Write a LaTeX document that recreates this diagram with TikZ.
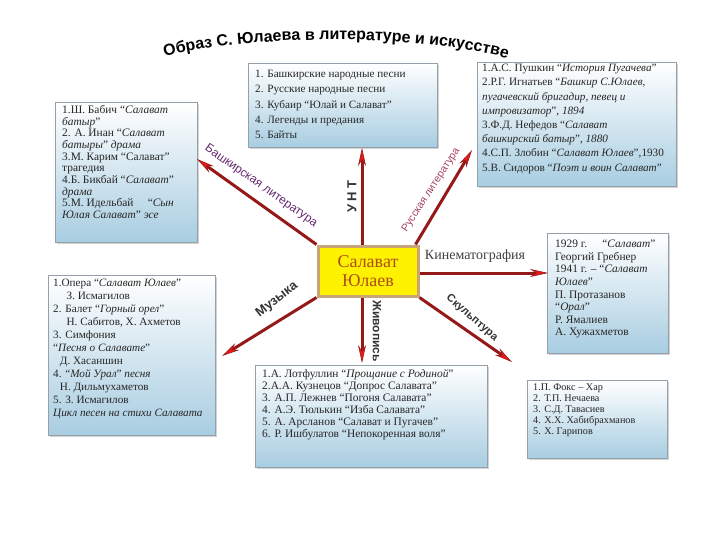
\documentclass[tikz,border=0pt]{standalone}
\usepackage{fontspec}
\setmainfont{Liberation Serif}
\setsansfont{Liberation Sans}
\newfontfamily\spacedsans[LetterSpace=25]{Liberation Sans}
\usetikzlibrary{arrows.meta,shadows,decorations.text}

\definecolor{linkred}{RGB}{150,25,25}
\definecolor{tipred}{RGB}{235,25,25}
\definecolor{boxblue}{RGB}{168,205,225}
\definecolor{boxedge}{RGB}{150,160,170}
\definecolor{ctrtext}{RGB}{172,78,22}
\definecolor{ctredge}{RGB}{200,165,120}
\definecolor{bashviolet}{RGB}{100,40,110}
\definecolor{ruspink}{RGB}{165,65,95}

\newcommand{\boxfont}[2]{\fontsize{#1}{#2}\selectfont}

\tikzset{
  infobox/.style={draw=boxedge, top color=white, bottom color=boxblue, anchor=north west,
    drop shadow={shadow xshift=2pt, shadow yshift=-2pt, opacity=0.35}},
  boxtext/.style={anchor=north west, align=left, inner sep=0pt, text=black!85},
  link/.style={draw=linkred, line width=3pt,
    -{Stealth[length=18pt, width=8pt, fill=tipred, color=linkred, line width=0.6pt]}},
  artname/.style={text=black!80, font=\sffamily\bfseries\boxfont{#1}{#1}},
}

\begin{document}
\begin{tikzpicture}[x=1pt, y=-1pt]
    \useasboundingbox (0,0) rectangle (720,540);

    % Title along an arc
    \path[decorate, decoration={text along path, text align=center,
        text={|\sffamily\bfseries\boxfont{16}{16}|Образ С. Юлаева в литературе и искусстве}}]
        (166,56) .. controls (255,34) and (420,34) .. (506,58);

    % Boxes
    \node[infobox, minimum width=142pt, minimum height=140pt] (bashbox) at (55,102) {};
    \node[infobox, minimum width=189pt, minimum height=84pt] (untbox) at (248,63) {};
    \node[infobox, minimum width=199pt, minimum height=124pt] (rusbox) at (477,62) {};
    \node[infobox, minimum width=121pt, minimum height=120pt] (kinobox) at (547,233) {};
    \node[infobox, minimum width=167pt, minimum height=160pt] (muzbox) at (48,275) {};
    \node[infobox, minimum width=232pt, minimum height=102pt] (zhivbox) at (255,365) {};
    \node[infobox, minimum width=140pt, minimum height=78pt] (skulbox) at (527,380) {};

    % Texts in the boxes
    \node[boxtext, font=\boxfont{11.4}{11.7}] (bashtext) at (62,105) {%
        1.Ш. Бабич “\textit{Салават}\\
        \textit{батыр}”\\
        2. А. Инан “\textit{Салават}\\
        \textit{батыры}” \textit{драма}\\
        3.М. Карим “Салават”\\
        трагедия\\
        4.Б. Бикбай “\textit{Салават}”\\
        \textit{драма}\\
        5.М. Идельбай \quad “\textit{Сын}\\
        \textit{Юлая Салават}” \textit{эсе}};

    \node[boxtext, font=\boxfont{11.2}{15.3}] (unttext) at (255,70) {%
        1. Башкирские народные песни\\
        2. Русские народные песни\\
        3. Кубаир “Юлай и Салават”\\
        4. Легенды и предания\\
        5. Байты};

    \node[boxtext, font=\boxfont{11.2}{14.2}] (rustext) at (482,64) {%
        1.А.С. Пушкин “\textit{История Пугачева}”\\
        2.Р.Г. Игнатьев “\textit{Башкир С.Юлаев,}\\
        \textit{пугачевский бригадир, певец и}\\
        \textit{импровизатор}”, \textit{1894}\\
        3.Ф.Д. Нефедов “\textit{Салават}\\
        \textit{башкирский батыр}”, \textit{1880}\\
        4.С.П. Злобин “\textit{Салават Юлаев}”,1930\\
        5.В. Сидоров “\textit{Поэт и воин Салават}”};

    \node[boxtext, font=\boxfont{11.4}{12.6}] (kinotext) at (555,240) {%
        1929 г. \quad “\textit{Салават}”\\
        Георгий Гребнер\\
        1941 г. – “\textit{Салават}\\
        \textit{Юлаев}”\\
        П. Протазанов\\
        “\textit{Орал}”\\
        Р. Ямалиев\\
        А. Хужахметов};

    \node[boxtext, font=\boxfont{11.2}{13}] (muztext) at (53,279) {%
        1.Опера “\textit{Салават Юлаев}”\\
        \hspace*{1.2em}З. Исмагилов\\
        2. Балет “\textit{Горный орел}”\\
        \hspace*{1.2em}Н. Сабитов, Х. Ахметов\\
        3. Симфония\\
        “\textit{Песня о Салавате}”\\
        \hspace*{0.6em}Д. Хасаншин\\
        4. “\textit{Мой Урал}” \textit{песня}\\
        \hspace*{0.6em}Н. Дильмухаметов\\
        5. З. Исмагилов\\
        \textit{Цикл песен на стихи Салавата}};

    \node[boxtext, font=\boxfont{11.4}{12}] (zhivtext) at (262,369) {%
        1.А. Лотфуллин “\textit{Прощание с Родиной}”\\
        2.А.А. Кузнецов “Допрос Салавата”\\
        3. А.П. Лежнев “Погоня Салавата”\\
        4. А.Э. Тюлькин “Изба Салавата”\\
        5. А. Арсланов “Салават и Пугачев”\\
        6. Р. Ишбулатов “Непокоренная воля”};

    \node[boxtext, font=\boxfont{10.2}{10.8}] (skultext) at (533,384) {%
        1.П. Фокс – Хар\\
        2. Т.П. Нечаева\\
        3. С.Д. Тавасиев\\
        4. Х.Х. Хабибрахманов\\
        5. Х. Гарипов};

    % Centre
    \node[draw=ctredge, line width=3pt, fill=yellow, minimum width=100pt, minimum height=50pt,
        align=center, text=ctrtext, font=\boxfont{18}{19}] (ctr) at (368,271) {Салават\\Юлаев};

    % Free ends of the arrows
    \coordinate (bashend) at (197,159);
    \coordinate (untend) at (362,148);
    \coordinate (rusend) at (472,150);
    \coordinate (kinoend) at (548,273);
    \coordinate (skulend) at (512,362);
    \coordinate (zhivend) at (362,363);
    \coordinate (muzend) at (222,356);

    \draw[link] (ctr.north west) -- (bashend);
    \draw[link] ([xshift=-6pt]ctr.north) -- (untend);
    \draw[link] ([xshift=-4pt]ctr.north east) -- (rusend);
    \draw[link] ([yshift=-2pt]ctr.east) -- (kinoend);
    \draw[link] (ctr.south east) -- (skulend);
    \draw[link] ([xshift=-6pt]ctr.south) -- (zhivend);
    \draw[link] (ctr.south west) -- (muzend);

    % Labels on the arrows
    \node[font=\sffamily\boxfont{12}{12}, text=bashviolet, rotate=-35] (bashlbl) at (261,186) {Башкирская литература};
    \node[font=\sffamily\boxfont{10.5}{10.5}, text=ruspink, rotate=57] (ruslbl) at (431,190) {Русская литература};
    \node[font=\boxfont{14}{14}, text=black!75] (kinolbl) at (475,256) {Кинематография};
    \node[text=black!80, font=\spacedsans\bfseries\boxfont{13}{13}, rotate=90] (untlbl) at (352,197) {УНТ};
    \node[artname=12, rotate=-90] (zhivlbl) at (377,331) {Живопись};
    \node[artname=13, rotate=38] (muzlbl) at (277,300) {Музыка};
    \node[artname=11, rotate=-41] (skullbl) at (472,318) {Скульптура};

\end{tikzpicture}
\end{document}
